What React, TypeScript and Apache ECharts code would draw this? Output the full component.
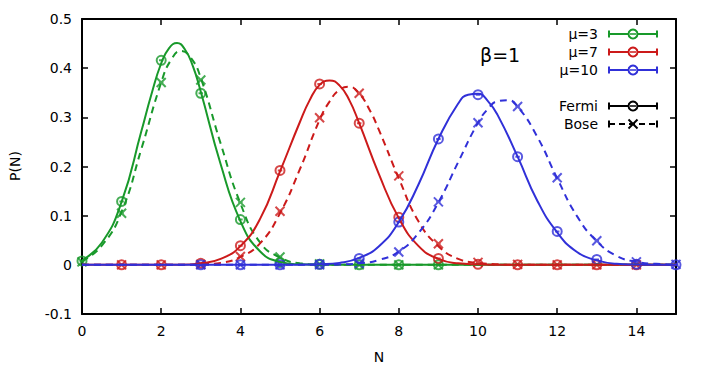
import React, { useEffect, useRef } from "react";
import * as echarts from "echarts";

// ---- data ----
// smooth curves
const greenFermiX = [0, 0.5, 1, 1.5, 1.75, 2, 2.2, 2.4, 2.6, 2.8, 3, 3.5, 4, 4.5, 5, 5.5, 6, 15];
const greenFermiY = [0.009, 0.045, 0.128, 0.272, 0.346, 0.41, 0.441, 0.451, 0.438, 0.404, 0.352, 0.205, 0.089, 0.027, 0.006, 0.001, 0, 0];
const greenBoseX = [0, 0.5, 1, 1.5, 2, 2.25, 2.5, 2.75, 3, 3.5, 4, 4.5, 5, 5.5, 6, 6.5, 15];
const greenBoseY = [0.007, 0.039, 0.108, 0.236, 0.371, 0.417, 0.435, 0.421, 0.38, 0.247, 0.125, 0.045, 0.015, 0.003, 0.0005, 0, 0];
const redFermiX = [0, 2.5, 3, 3.5, 4, 4.5, 5, 5.5, 5.75, 6, 6.25, 6.5, 6.75, 7, 7.5, 8, 8.5, 9, 9.5, 10, 10.5, 15];
const redFermiY = [0, 0, 0.003, 0.012, 0.038, 0.094, 0.19, 0.29, 0.335, 0.366, 0.375, 0.365, 0.335, 0.288, 0.184, 0.095, 0.038, 0.012, 0.003, 0.001, 0, 0];
const redBoseX = [0, 2.5, 3, 3.5, 4, 4.5, 5, 5.5, 6, 6.25, 6.5, 6.75, 7, 7.25, 7.5, 8, 8.5, 9, 9.5, 10, 10.5, 11, 15];
const redBoseY = [0, 0, 0.001, 0.004, 0.016, 0.044, 0.105, 0.194, 0.295, 0.332, 0.356, 0.362, 0.348, 0.317, 0.274, 0.176, 0.088, 0.038, 0.012, 0.004, 0.001, 0, 0];
const blueFermiX = [0, 5.5, 6, 6.5, 7, 7.5, 8, 8.5, 9, 9.5, 9.75, 10, 10.25, 10.5, 11, 11.5, 12, 12.5, 13, 13.5, 14, 14.5, 15];
const blueFermiY = [0, 0, 0.001, 0.004, 0.014, 0.038, 0.087, 0.164, 0.256, 0.328, 0.346, 0.348, 0.333, 0.304, 0.22, 0.13, 0.066, 0.026, 0.009, 0.002, 0.0005, 0, 0];
const blueBoseX = [0, 6, 6.5, 7, 7.5, 8, 8.5, 9, 9.5, 10, 10.25, 10.5, 10.75, 11, 11.5, 12, 12.5, 13, 13.5, 14, 14.5, 15];
const blueBoseY = [0, 0, 0.0007, 0.003, 0.01, 0.027, 0.065, 0.127, 0.209, 0.289, 0.317, 0.333, 0.335, 0.322, 0.26, 0.176, 0.099, 0.048, 0.018, 0.006, 0.002, 0.0004];

// data points at integer N
const greenN = [0, 1, 2, 3, 4, 5, 6, 7, 8, 9];
const greenFermiPts = [0.008, 0.129, 0.416, 0.349, 0.092, 0.005, 0.001, 0, 0, 0];
const greenBosePts = [0.006, 0.105, 0.371, 0.376, 0.127, 0.016, 0.002, 0, 0, 0];

const redN = [1, 2, 3, 4, 5, 6, 7, 8, 9, 10, 11, 12, 13, 14];
const redFermiPts = [0, 0, 0.003, 0.039, 0.192, 0.368, 0.288, 0.097, 0.013, 0.001, 0, 0, 0, 0];
const redBosePts = [0, 0, 0.001, 0.017, 0.109, 0.299, 0.349, 0.181, 0.043, 0.005, 0.001, 0, 0, 0];

const blueN = [3, 4, 5, 6, 7, 8, 9, 10, 11, 12, 13, 14, 15];
const blueFermiPts = [0, 0, 0, 0.001, 0.013, 0.087, 0.256, 0.346, 0.22, 0.068, 0.011, 0.001, 0];
const blueBosePts = [0, 0, 0, 0, 0.003, 0.026, 0.128, 0.289, 0.322, 0.177, 0.049, 0.006, 0.001];

const legendLabels = ["μ=3", "μ=7", "μ=10"];
const typeLabels = ["Fermi", "Bose"];
const xTickInterval = 2;
const yTickInterval = 0.1;

const GREEN = "#18992a";
const RED = "#cc1a1a";
const BLUE = "#3030d8";
const FONT = "DejaVu Sans";

const CIRCLE_SYM = "path://M0,5A5,5,0,1,1,10,5A5,5,0,1,1,0,5ZM2.5,5L7.5,5";
const CROSS_SYM = "path://M0,0L10,10M10,0L0,10M2.5,5L7.5,5";

const pairs = (xs: number[], ys: number[]) => xs.map((x, i) => [x, ys[i]]);

function curve(name: string, xs: number[], ys: number[], color: string, dashed: boolean) {
  return {
    name,
    type: "line",
    data: pairs(xs, ys),
    smooth: 0.5,
    showSymbol: false,
    symbol: "none",
    lineStyle: { color, width: 2, type: dashed ? [7, 5] : "solid" },
    silent: true,
  };
}

function points(name: string, xs: number[], ys: number[], color: string, bose: boolean) {
  return {
    name,
    type: "scatter",
    data: pairs(xs, ys),
    symbol: bose ? CROSS_SYM : CIRCLE_SYM,
    symbolSize: 9,
    itemStyle: { color: "transparent", borderColor: color, borderWidth: 2 },
    silent: true,
  };
}

function legendRow(label: string, y: number, color: string, dashed: boolean, bose: boolean) {
  const x0 = 609, x1 = 657, xm = 633;
  const els: any[] = [
    {
      type: "text",
      style: { text: label, x: 598, y, align: "right", verticalAlign: "middle", font: `14px "${FONT}"`, fill: "#000" },
    },
    {
      type: "line",
      shape: { x1: x0, y1: y, x2: x1, y2: y },
      style: { stroke: color, lineWidth: 2, lineDash: dashed ? [6, 4] : null },
    },
    { type: "line", shape: { x1: x0, y1: y - 3.5, x2: x0, y2: y + 3.5 }, style: { stroke: color, lineWidth: 2 } },
    { type: "line", shape: { x1: x1, y1: y - 3.5, x2: x1, y2: y + 3.5 }, style: { stroke: color, lineWidth: 2 } },
  ];
  if (bose) {
    els.push({ type: "line", shape: { x1: xm - 4.5, y1: y - 4.5, x2: xm + 4.5, y2: y + 4.5 }, style: { stroke: color, lineWidth: 2 } });
    els.push({ type: "line", shape: { x1: xm + 4.5, y1: y - 4.5, x2: xm - 4.5, y2: y + 4.5 }, style: { stroke: color, lineWidth: 2 } });
  } else {
    els.push({ type: "circle", shape: { cx: xm, cy: y, r: 4.5 }, style: { stroke: color, lineWidth: 2, fill: "#fff" } });
    els.push({ type: "line", shape: { x1: xm - 3, y1: y, x2: xm + 3, y2: y }, style: { stroke: color, lineWidth: 1.5 } });
  }
  return els;
}

export default function App() {
  const ref = useRef<HTMLDivElement>(null);
  useEffect(() => {
    if (!ref.current) return;
    const chart = echarts.init(ref.current, null, { renderer: "svg" });
    const axisLine = { show: true, onZero: false, lineStyle: { color: "#000", width: 2 } };
    const axisTick = { show: true, inside: true, length: 6, lineStyle: { color: "#000", width: 1.5 } };
    const label = { fontSize: 14, color: "#000", fontFamily: FONT };
    const option: any = {
      animation: false,
      backgroundColor: "#fff",
      grid: { left: 82, right: 30, top: 19, bottom: 58, containLabel: false },
      xAxis: [
        {
          type: "value", min: 0, max: 15, interval: xTickInterval, position: "bottom",
          axisLine, axisTick, splitLine: { show: false },
          axisLabel: { ...label, margin: 10, showMaxLabel: false },
        },
        {
          type: "value", min: 0, max: 15, interval: xTickInterval, position: "top",
          axisLine, axisTick, splitLine: { show: false }, axisLabel: { show: false },
        },
      ],
      yAxis: [
        {
          type: "value", min: -0.1, max: 0.5, interval: yTickInterval, position: "left",
          axisLine, axisTick, splitLine: { show: false },
          axisLabel: { ...label, margin: 10 },
        },
        {
          type: "value", min: -0.1, max: 0.5, interval: yTickInterval, position: "right",
          axisLine, axisTick, splitLine: { show: false }, axisLabel: { show: false },
        },
      ],
      series: [
        curve("g-fermi", greenFermiX, greenFermiY, GREEN, false),
        points("g-fermi-pts", greenN, greenFermiPts, GREEN, false),
        curve("g-bose", greenBoseX, greenBoseY, GREEN, true),
        points("g-bose-pts", greenN, greenBosePts, GREEN, true),
        curve("r-fermi", redFermiX, redFermiY, RED, false),
        points("r-fermi-pts", redN, redFermiPts, RED, false),
        curve("r-bose", redBoseX, redBoseY, RED, true),
        points("r-bose-pts", redN, redBosePts, RED, true),
        curve("b-fermi", blueFermiX, blueFermiY, BLUE, false),
        points("b-fermi-pts", blueN, blueFermiPts, BLUE, false),
        curve("b-bose", blueBoseX, blueBoseY, BLUE, true),
        points("b-bose-pts", blueN, blueBosePts, BLUE, true),
      ],
      graphic: [
        {
          type: "text", x: 15, y: 166, rotation: Math.PI / 2,
          style: { text: "P(N)", align: "center", verticalAlign: "middle", font: `14px "${FONT}"`, fill: "#000" },
        },
        {
          type: "text",
          style: { text: "N", x: 379, y: 357, align: "center", verticalAlign: "middle", font: `14px "${FONT}"`, fill: "#000" },
        },
        {
          type: "text",
          style: { text: "β=1", x: 480, y: 55, align: "left", verticalAlign: "middle", font: `19px "${FONT}"`, fill: "#000" },
        },
        ...legendRow(legendLabels[0], 34, GREEN, false, false),
        ...legendRow(legendLabels[1], 52, RED, false, false),
        ...legendRow(legendLabels[2], 70, BLUE, false, false),
        ...legendRow(typeLabels[0], 106, "#000", false, false),
        ...legendRow(typeLabels[1], 124, "#000", true, true),
      ],
    };
    chart.setOption(option);
    return () => chart.dispose();
  }, []);
  return <div ref={ref} style={{ position: "fixed", left: 0, top: 0, width: 706, height: 372 }} />;
}
